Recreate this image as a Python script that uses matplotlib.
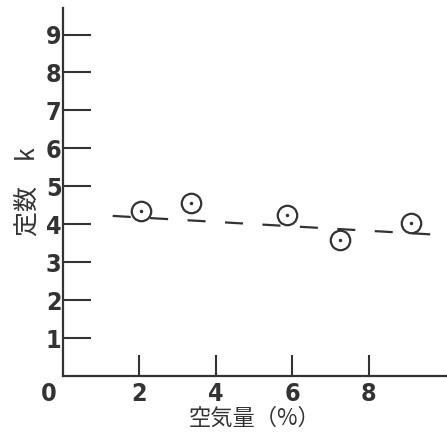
import matplotlib
matplotlib.use("Agg")
import matplotlib.pyplot as plt
from matplotlib.transforms import ScaledTranslation

# measured points (air content %, constant k)
air = [2.05, 3.35, 5.85, 7.25, 9.1]
k_vals = [4.35, 4.57, 4.25, 3.59, 4.03]

# dashed trend line end points
line_x = [1.3, 9.85]
line_y = [4.22, 3.72]

xticks = [0, 2, 4, 6, 8]
yticks = [1, 2, 3, 4, 5, 6, 7, 8, 9]

jp_font = ["Noto Sans CJK JP", "DejaVu Sans"]
ink = "#333333"
num_kw = dict(fontsize=18, fontweight='bold', family='DejaVu Sans',
              fontstretch='condensed', color=ink)

fig = plt.figure(figsize=(4.47, 4.34), dpi=100)
ax = fig.add_axes([63 / 447, (434 - 376) / 434, (447 - 63) / 447, (376 - 8) / 434])

lw = 1.6
ax.plot(line_x, line_y, color=ink, lw=lw, dashes=(13 / lw, 14 / lw), zorder=2)
ax.plot(air, k_vals, 'o', ms=14, mfc='white', mec=ink, mew=1.6, zorder=3)
ax.plot(air, k_vals, '.', ms=3, color=ink, zorder=4)

ax.set_xlim(0, 10.05)
ax.set_ylim(0, 9.7)
ax.spines['top'].set_visible(False)
ax.spines['right'].set_visible(False)
for s in ['left', 'bottom']:
    ax.spines[s].set_color(ink)
    ax.spines[s].set_linewidth(1.6)

ax.set_xticks(xticks)
ax.set_yticks(yticks)
ax.tick_params(axis='x', direction='in', length=15, width=1.5, color=ink, pad=4)
ax.tick_params(axis='y', direction='in', length=20, width=1.5, color=ink, pad=1)
ax.set_xticklabels([str(t) for t in xticks], **num_kw)
ax.set_yticklabels([str(t) for t in yticks], **num_kw)

# origin "0" sits left of the corner, no tick mark
t0 = ax.xaxis.get_major_ticks()[0]
t0.tick1line.set_visible(False)
t0.label1.set_transform(t0.label1.get_transform()
                        + ScaledTranslation(-0.14, 0, fig.dpi_scale_trans))

ax.set_xlabel("空気量（%）", fontsize=16, family=jp_font, color=ink, labelpad=1)
ax.set_ylabel("定数　k", fontsize=18, family=jp_font, color=ink, labelpad=4)

fig.savefig("out.png", dpi=100)
